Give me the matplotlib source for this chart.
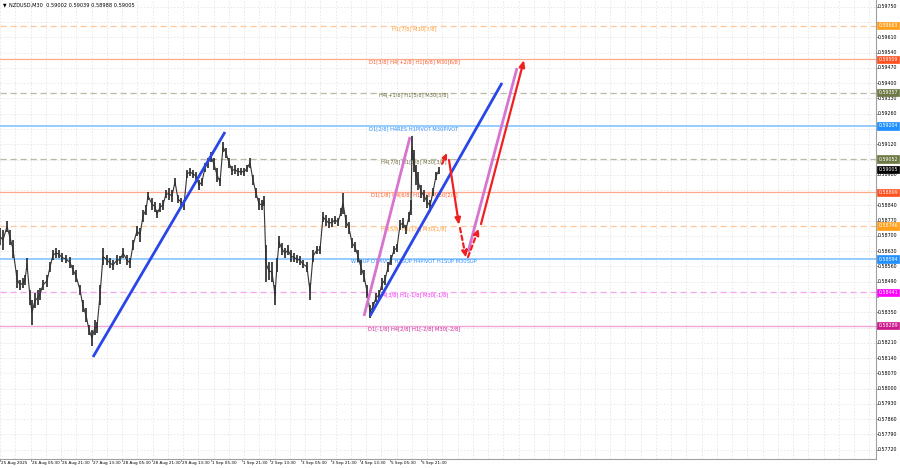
import matplotlib
matplotlib.use("Agg")
import matplotlib.pyplot as plt

# ---------------- data ----------------
title_text = "NZDUSD,M30  0.59002 0.59039 0.58988 0.59005"
current_price = 0.59005

bar_x = [0, 3, 7, 10, 13, 17, 20, 23, 25, 27, 30, 32, 35, 38, 40, 43, 47, 50, 53, 56, 59, 62, 66, 70, 73, 76, 80, 83, 86, 89,
         92, 95, 97, 100, 103, 107, 110, 113, 117, 120, 123, 127, 130, 133, 137, 140, 143, 146, 148,
         152, 155, 157, 160, 163, 166, 169, 172, 175, 178, 181, 184, 187, 190, 193, 196, 199, 202, 205, 208, 211, 214,
         217, 220, 223, 226, 229, 232, 235, 238, 241, 244, 247, 250, 253, 256, 259, 262, 264, 266, 269, 272, 275, 277,
         279, 282, 285, 288,
         291, 294, 297, 300, 303, 307, 310, 313, 317, 320, 323, 326, 329, 332, 335, 338, 341, 343, 346, 349, 352, 355,
         358, 361, 364, 367, 370, 373, 376, 379, 382, 385, 388, 391, 394, 397, 400, 403, 406, 409, 411, 412, 414, 416,
         418, 421, 424, 427, 430, 433, 436, 439]
bar_high = [0.58736, 0.58727, 0.58768, 0.58727, 0.58681, 0.58544, 0.58498, 0.58507, 0.58521, 0.58598, 0.58452, 0.58406,
            0.58438, 0.58452, 0.58461, 0.58498, 0.58521, 0.58580, 0.58635, 0.58644, 0.58635, 0.58621, 0.58612, 0.58603,
            0.58567, 0.58544, 0.58475, 0.58406, 0.58369, 0.58292, 0.58269, 0.58315, 0.58305, 0.58475, 0.58644, 0.58612,
            0.58598, 0.58589, 0.58612, 0.58608, 0.58644, 0.58612, 0.58598, 0.58681, 0.58745, 0.58736, 0.58819, 0.58842,
            0.58901,
            0.58874, 0.58856, 0.58819, 0.58851, 0.58865, 0.58910, 0.58920, 0.58910, 0.58966, 0.58887, 0.58874, 0.58865,
            0.59002, 0.59011, 0.59002, 0.58993, 0.58956, 0.58966, 0.59034, 0.59057, 0.59085, 0.59057, 0.59011, 0.58966,
            0.59130, 0.59103, 0.59057, 0.59020, 0.59025, 0.59011, 0.59011, 0.59011, 0.59025, 0.59057, 0.58979, 0.58920,
            0.58874, 0.58865, 0.58883, 0.58658, 0.58580, 0.58580, 0.58475, 0.58598, 0.58700, 0.58667, 0.58644, 0.58658,
            0.58635, 0.58621, 0.58612, 0.58608, 0.58589, 0.58580, 0.58484, 0.58635, 0.58654, 0.58654, 0.58810, 0.58796,
            0.58782, 0.58782, 0.58791, 0.58782, 0.58828, 0.58897, 0.58796, 0.58764, 0.58690, 0.58672, 0.58635, 0.58589,
            0.58544, 0.58475, 0.58383, 0.58397, 0.58438, 0.58452, 0.58507, 0.58521, 0.58580, 0.58612, 0.58654, 0.58663,
            0.58773, 0.58782, 0.58750, 0.58810, 0.58865, 0.59158, 0.59094, 0.59025, 0.58993, 0.58933, 0.58910, 0.58887,
            0.58865, 0.58920, 0.58993, 0.59016]
bar_low = [0.58658, 0.58635, 0.58718, 0.58658, 0.58598, 0.58461, 0.58452, 0.58461, 0.58475, 0.58544, 0.58383, 0.58292,
           0.58369, 0.58383, 0.58406, 0.58452, 0.58466, 0.58535, 0.58589, 0.58598, 0.58598, 0.58580, 0.58576, 0.58553,
           0.58521, 0.58489, 0.58429, 0.58351, 0.58305, 0.58246, 0.58195, 0.58246, 0.58255, 0.58383, 0.58567, 0.58567,
           0.58553, 0.58544, 0.58567, 0.58571, 0.58598, 0.58567, 0.58553, 0.58635, 0.58700, 0.58672, 0.58764, 0.58796,
           0.58865,
           0.58819, 0.58810, 0.58782, 0.58810, 0.58819, 0.58874, 0.58865, 0.58856, 0.58929, 0.58851, 0.58837, 0.58819,
           0.58966, 0.58975, 0.58966, 0.58956, 0.58910, 0.58929, 0.58993, 0.59011, 0.59039, 0.59002, 0.58947, 0.58929,
           0.59085, 0.59057, 0.59011, 0.58979, 0.58984, 0.58975, 0.58979, 0.58975, 0.58993, 0.59011, 0.58933, 0.58874,
           0.58819, 0.58819, 0.58837, 0.58489, 0.58498, 0.58489, 0.58383, 0.58535, 0.58644, 0.58612, 0.58598, 0.58612,
           0.58580, 0.58580, 0.58576, 0.58567, 0.58553, 0.58535, 0.58406, 0.58580, 0.58617, 0.58617, 0.58764, 0.58745,
           0.58736, 0.58741, 0.58755, 0.58745, 0.58791, 0.58801, 0.58736, 0.58709, 0.58644, 0.58626, 0.58580, 0.58521,
           0.58489, 0.58415, 0.58324, 0.58351, 0.58397, 0.58406, 0.58452, 0.58475, 0.58535, 0.58567, 0.58617, 0.58626,
           0.58727, 0.58736, 0.58709, 0.58764, 0.58796, 0.59048, 0.58993, 0.58933, 0.58910, 0.58874, 0.58856, 0.58828,
           0.58810, 0.58883, 0.58956, 0.58984]

level_prices = [0.59663, 0.59509, 0.59357, 0.59204, 0.59052, 0.58899, 0.58746, 0.58594, 0.58441, 0.58289]
level_labels = ["H1[7/8] M30[7/8]",
                "D1[3/8] H4[+2/8] H1[6/8] M30[6/8]",
                "H4[+1/8] H1[5/8] M30[5/8]",
                "D1[2/8] H4RES H1PIVOT M30PIVOT",
                "H4[7/8] H1[3/8] M30[3/8]",
                "D1[1/8] H4[6/8] H1[2/8] M30[2/8]",
                "H4[5/8] H1[1/8] M30[1/8]",
                "W1SUP D1PIVOT H1SUP H4PIVOT H1SUP M30SUP",
                "H4[3/8] H1[-1/8] M30[-1/8]",
                "D1[-1/8] H4[2/8] H1[-2/8] M30[-2/8]"]
level_line_colors = ["#FFC89A", "#FFA98A", "#B9B9A6", "#8CC8FF", "#B9B9A6",
                     "#FFA98A", "#FFC89A", "#8CC8FF", "#F2A6EE", "#F2A6D6"]
level_text_colors = ["#FF9A30", "#FF5A28", "#6B6B3A", "#2E8FFF", "#6B6B3A",
                     "#FF5A28", "#FF9A30", "#2E8FFF", "#FF20FF", "#D0209A"]
level_box_colors = ["#FF9F1A", "#FF5020", "#6E7A45", "#2090FF", "#6E7A45",
                    "#FF5020", "#FF9F1A", "#2090FF", "#FF00FF", "#CC1A8E"]
level_styles = [(0, (5, 3)), "-", (0, (5, 3)), "-", (0, (5, 3)),
                "-", (0, (5, 3)), "-", (0, (5, 3)), "-"]
level_widths = [0.9, 0.9, 0.9, 1.3, 0.9, 0.9, 0.9, 1.3, 0.9, 1.0]

price_ticks = [0.59750, 0.59680, 0.59610, 0.59540, 0.59470, 0.59400, 0.59330, 0.59260, 0.59190, 0.59120,
               0.59050, 0.58980, 0.58910, 0.58840, 0.58770, 0.58700, 0.58630, 0.58560, 0.58490, 0.58420,
               0.58350, 0.58280, 0.58210, 0.58140, 0.58070, 0.58000, 0.57930, 0.57860, 0.57790, 0.57720]

time_labels = ["25 Aug 2025", "26 Aug 05:30", "26 Aug 21:30", "27 Aug 13:30", "28 Aug 05:30", "28 Aug 21:30",
               "29 Aug 13:30", "1 Sep 05:30", "1 Sep 21:30", "2 Sep 13:30", "3 Sep 05:30", "3 Sep 21:30",
               "4 Sep 13:30", "5 Sep 05:30", "5 Sep 21:30"]
time_pos = [0, 31, 61, 92, 122, 152, 181, 211, 242, 270, 301, 331, 360, 390, 421]

# trend lines (bar index, price)
blue_lines = [([93, 225], [0.58145, 0.59176]), ([370, 502], [0.58333, 0.59401])]
violet_lines = [([364, 410], [0.58333, 0.59153]), ([468, 517], [0.58626, 0.59469])]
red_arrows_solid = [([442, 447], [0.59030, 0.59080]), ([449, 459], [0.59048, 0.58750]),
                    ([481, 524], [0.58754, 0.59506])]
red_arrows_dashed = [([460, 466], [0.58736, 0.58599]), ([468, 479], [0.58603, 0.58736])]

# ---------------- figure ----------------
W, H = 900, 468
fig = plt.figure(figsize=(W / 100, H / 100), dpi=100)
fig.patch.set_facecolor("white")
plot_right = 876
plot_bottom = 459
ax = fig.add_axes([0, (H - plot_bottom) / H, plot_right / W, plot_bottom / H])
ymax = 0.59781
ymin = ymax - 0.00004583 * plot_bottom
ax.set_xlim(0, plot_right)
ax.set_ylim(ymin, ymax)
ax.set_facecolor("white")

# grid
grid_x = []
gx = 0.0
while gx < plot_right:
    grid_x.append(gx)
    gx += 15.25
for g in grid_x:
    ax.axvline(g, color="#E6E6E6", lw=0.6, ls=(0, (2, 2)), zorder=0)
for p in price_ticks:
    ax.axhline(p, color="#E6E6E6", lw=0.6, ls=(0, (2, 2)), zorder=0)

# levels
for p, lab, lc, tc, st, lw in zip(level_prices, level_labels, level_line_colors, level_text_colors,
                                  level_styles, level_widths):
    ax.axhline(p, color=lc, lw=lw, ls=st, zorder=1)
    ax.annotate(lab, xy=(414, p), xytext=(0, -2.0), textcoords="offset points",
                ha="center", va="center", fontsize=3.7, color=tc, zorder=2)

# price bars
ax.vlines(bar_x, bar_low, bar_high, color="#262626", lw=1.2, zorder=3)
mids = [(h + l) / 2 for h, l in zip(bar_high, bar_low)]
ax.plot(bar_x, mids, color="#333333", lw=0.8, zorder=3)

# trend lines
for xs, ys in blue_lines:
    ax.plot(xs, ys, color="#2946E8", lw=2.0, solid_capstyle="butt", zorder=4)
for xs, ys in violet_lines:
    ax.plot(xs, ys, color="#D774D0", lw=2.0, solid_capstyle="butt", zorder=4)
head = "-|>,head_length=0.38,head_width=0.16"
for i, (xs, ys) in enumerate(red_arrows_solid):
    st = "-|>,head_length=0.28,head_width=0.13" if i == 0 else head
    ax.annotate("", xy=(xs[1], ys[1]), xytext=(xs[0], ys[0]),
                arrowprops=dict(arrowstyle=st, color="#F02020", lw=1.5 if i == 0 else 1.6,
                                shrinkA=0, shrinkB=0), zorder=5)
for xs, ys in red_arrows_dashed:
    ax.annotate("", xy=(xs[1], ys[1]), xytext=(xs[0], ys[0]),
                arrowprops=dict(arrowstyle=head, color="#F02020", lw=1.6,
                                ls=(0, (2, 1.5)), shrinkA=0, shrinkB=0), zorder=5)

ax.set_xticks([])
ax.set_yticks([])
for s in ["top", "left"]:
    ax.spines[s].set_visible(False)
ax.spines["right"].set_color("#A0A0A0")
ax.spines["bottom"].set_color("#A0A0A0")
ax.spines["right"].set_linewidth(0.8)
ax.spines["bottom"].set_linewidth(0.8)

# title
fig.text(3 / W, 1 - 5 / H, "\u25BC", fontsize=3.3, color="black", va="center", ha="left")
fig.text(9 / W, 1 - 5 / H, title_text, fontsize=3.6, color="black", va="center", ha="left")

# right axis labels (labels under a price box are hidden, as in the terminal)
box_prices = level_prices + [current_price]
for p in price_ticks:
    ax.plot([plot_right, plot_right + 2], [p, p], color="#808080", lw=0.6, clip_on=False)
    if min(abs(p - b) for b in box_prices) < 0.00022:
        continue
    ax.annotate(f"{p:.5f}", xy=(plot_right, p), xycoords="data", xytext=(1.6, 0), textcoords="offset points",
                ha="left", va="center", fontsize=3.4, color="black", annotation_clip=False)

# level price boxes
for p, bc in zip(level_prices, level_box_colors):
    ax.annotate(f"{p:.5f}", xy=(plot_right, p), xytext=(1.8, 0), textcoords="offset points",
                ha="left", va="center", fontsize=3.4, color="white", annotation_clip=False,
                bbox=dict(boxstyle="square,pad=0.25", fc=bc, ec=bc, lw=0.5), zorder=6)
ax.annotate(f"{current_price:.5f}", xy=(plot_right, current_price), xytext=(1.8, 0), textcoords="offset points",
            ha="left", va="center", fontsize=3.4, color="white", annotation_clip=False,
            bbox=dict(boxstyle="square,pad=0.25", fc="black", ec="black", lw=0.5), zorder=7)

# time labels
for lab, tp in zip(time_labels, time_pos):
    ax.annotate(lab, xy=(tp, ymin), xytext=(0.5, -3.0), textcoords="offset points",
                ha="left", va="center", fontsize=3.0, color="black", annotation_clip=False)
    ax.plot([tp, tp], [ymin, ymin - 0.00009], color="#808080", lw=0.6, clip_on=False)

fig.savefig("out.png", dpi=100, facecolor="white")
